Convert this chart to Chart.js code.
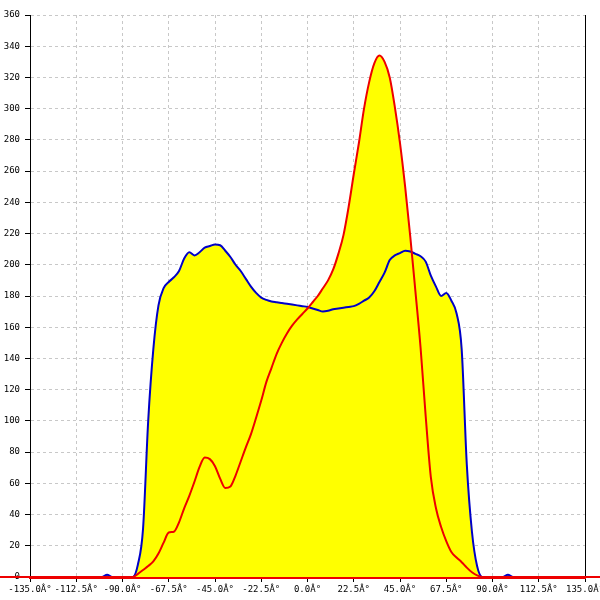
<!DOCTYPE html>
<html>
<head>
<meta charset="utf-8">
<script src="https://cdn.jsdelivr.net/npm/chart.js@4"></script>
<style>
  body { margin: 0; background: #fff; }
  canvas { display: block; }
</style>
</head>
<body>
<canvas id="chart" width="600" height="600"></canvas>
<script>
const angles = [
  -180, -100, -97.5, -95, -90, -87.5,
  -85, -82.5, -80, -77.5, -75, -72.5, -70, -67.5, -65, -62.5,
  -60, -57.5, -55, -52.5, -50, -47.5, -45, -42.5, -40, -37.5,
  -35, -32.5, -30, -27.5, -25, -22.5, -20, -17.5, -15, -12.5,
  -10, -7.5, -5, -2.5, 0, 2.5, 5, 7.5, 10, 12.5,
  15, 17.5, 20, 22.5, 25, 27.5, 30, 32.5, 35, 37.5,
  40, 42.5, 45, 47.5, 50, 52.5, 55, 57.5, 60, 62.5,
  65, 67.5, 70, 72.5, 75, 77.5, 80, 82.5, 85,
  87.5, 90, 95, 97.5, 100, 180
];

const blueValues = [
  0, 0, 1.5, 0, 0, 0,
  0, 8, 31, 100, 146, 174, 185, 189, 192, 196,
  204, 208, 206, 208, 211, 212, 213, 212.5, 209, 205,
  200, 196, 191, 186, 182, 179, 177.5, 176.5, 176, 175.5,
  175, 174.5, 174, 173.5, 173, 172, 171, 170, 170.5, 171.5,
  172, 172.5, 173, 173.5, 175, 177, 179, 183, 189, 195,
  203, 206, 207.5, 209, 208.5, 207, 205.5, 202, 193, 186,
  180, 182, 177, 169, 146, 72, 29, 7, 0,
  0, 0, 0, 1.5, 0, 0
];

const redValues = [
  0, 0, 0, 0, 0, 0,
  0, 2, 4.5, 7, 10, 15, 22, 28.5, 29, 35,
  44, 52, 61, 70.5, 76.5, 75.5, 71, 63, 57, 58,
  65, 74, 83, 91.5, 102, 113, 125, 134, 143, 150,
  156, 161, 165, 168.5, 172, 176, 180, 185, 190, 197,
  207, 219, 237, 258, 278, 300, 317, 329, 334, 330,
  320, 301, 278, 250, 218, 183, 147, 103, 64, 44,
  32, 23, 16, 12.5, 9.5, 6, 3, 1, 0,
  0, 0, 0, 0, 0, 0
];

const xTicks = { min: -135, max: 135, step: 22.5 };
const yTicks = { min: 0, max: 360, step: 20 };

const tickFont = { family: "DejaVu Sans Mono", size: 9 };
const gridGray = "#c8c8c8";

function points(values) {
  return angles.map((a, i) => ({ x: a, y: values[i] }));
}

new Chart(document.getElementById("chart").getContext("2d"), {
  type: "line",
  data: {
    datasets: [
      {
        data: points(blueValues),
        borderColor: "#0000c8",
        backgroundColor: "#ffff00",
        borderWidth: 2,
        fill: "origin",
        pointRadius: 0,
        cubicInterpolationMode: "monotone",
        clip: false,
        order: 1,
      },
      {
        data: points(redValues),
        borderColor: "#ee0000",
        backgroundColor: "#ffff00",
        borderWidth: 2,
        fill: "origin",
        pointRadius: 0,
        cubicInterpolationMode: "monotone",
        clip: false,
        order: 0,
      },
    ],
  },
  options: {
    responsive: false,
    animation: false,
    layout: { autoPadding: false, padding: { top: 15, right: 15, left: 0, bottom: 0 } },
    plugins: {
      legend: { display: false },
      tooltip: { enabled: false },
      filler: { drawTime: "beforeDatasetsDraw" },
    },
    scales: {
      x: {
        type: "linear",
        min: xTicks.min,
        max: xTicks.max,
        afterFit: (s) => {
          s.height = 23;
          s.paddingLeft = 0;
          s.paddingRight = 0;
        },
        ticks: {
          stepSize: xTicks.step,
          autoSkip: false,
          maxRotation: 0,
          color: "#000",
          font: tickFont,
          padding: 2,
          callback: (v) => v.toFixed(1) + "Â°",
        },
        grid: {
          color: (c) => (c.tick && c.tick.value === xTicks.max ? "#000" : gridGray),
          tickColor: "#000",
          tickLength: 5,
        },
        border: {
          color: "#ee0000",
          width: 3,
          dash: (c) => (c.tick && c.tick.value === xTicks.max ? [] : [3, 3]),
        },
      },
      y: {
        min: yTicks.min,
        max: yTicks.max,
        afterFit: (s) => {
          s.width = 30;
          s.paddingTop = 0;
          s.paddingBottom = 0;
        },
        ticks: {
          stepSize: yTicks.step,
          color: "#000",
          font: tickFont,
          padding: 5,
        },
        grid: {
          color: gridGray,
          tickColor: "#000",
          tickLength: 5,
        },
        border: { color: "#000", dash: [3, 3] },
      },
    },
  },
});
</script>
</body>
</html>
